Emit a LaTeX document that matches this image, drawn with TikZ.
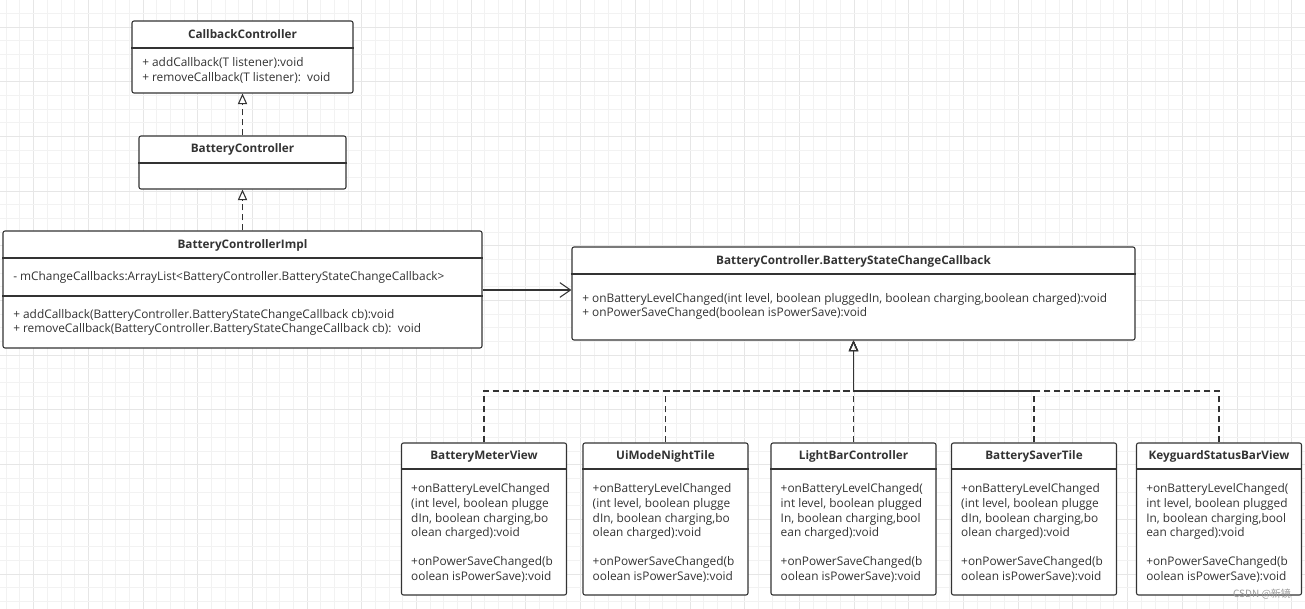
\documentclass[tikz,border=0pt]{standalone}
\usepackage{fontspec}
\setmainfont{Open Sans}
\newfontfamily\cjkfont{Noto Sans CJK SC}
\usetikzlibrary{arrows.meta}
\definecolor{umlline}{HTML}{333333}
\definecolor{gridminor}{HTML}{F2F2F2}
\definecolor{gridmajor}{HTML}{E6E6E6}

% member lists of the five listeners (two ways of breaking the lines)
\newcommand{\listenerA}{+onBatteryLevelChanged\\(int level, boolean plugge\\dIn, boolean charging,bo\\olean charged):void\\\mbox{}\\+onPowerSaveChanged(b\\oolean isPowerSave):void}
\newcommand{\listenerB}{+onBatteryLevelChanged(\\int level, boolean plugged\\In, boolean charging,bool\\ean charged):void\\\mbox{}\\+onPowerSaveChanged(b\\oolean isPowerSave):void}

\tikzset{
  classbox/.style={draw=umlline,line width=0.8pt,rounded corners=1.5pt,fill=white,inner sep=0pt},
  classname/.style={font=\fontsize{8.8}{10.9}\selectfont\bfseries,text=umlline,inner sep=0pt},
  members/.style={font=\fontsize{8.9}{10.9}\selectfont,text=umlline,align=left,inner sep=0pt,anchor=west},
  divider/.style={draw=umlline,line width=0.8pt},
  realize/.style={draw=umlline,line width=0.8pt,dash pattern=on 4.5pt off 3pt,-{Triangle[open,length=8pt,width=7pt]}},
  assoc/.style={draw=umlline,line width=0.8pt,-{Straight Barb[length=8pt,width=11pt]}}
}

\begin{document}
\begin{tikzpicture}[x=0.75pt,y=-0.75pt]
  \useasboundingbox[fill=white] (0,0) rectangle (1305,609);
  % background grid
  \foreach \k in {0,...,95}{
    \pgfmathsetmacro{\gx}{6.2+\k*13.675}
    \pgfmathtruncatemacro{\km}{mod(\k,4)}
    \ifnum\km=2 \draw[gridmajor,line width=0.6pt] (\gx,0) -- (\gx,609);
    \else \draw[gridminor,line width=0.6pt] (\gx,0) -- (\gx,609); \fi
  }
  \foreach \k in {0,...,44}{
    \pgfmathsetmacro{\gy}{13.3+\k*13.675}
    \pgfmathtruncatemacro{\km}{mod(\k,4)}
    \ifnum\km=1 \draw[gridmajor,line width=0.6pt] (0,\gy) -- (1305,\gy);
    \else \draw[gridminor,line width=0.6pt] (0,\gy) -- (1305,\gy); \fi
  }

  % CallbackController
  \node[classbox,minimum width=165.75pt,minimum height=54pt] (cbCtrl) at (242.5,57) {};
  \node[classname] (cbCtrl-title) at (242.5,34.5) {CallbackController};
  \draw[divider] (cbCtrl.west |- 0,48) -- (cbCtrl.east |- 0,48);
  \node[members] (cbCtrl-ops) at (142,70.5) {+ addCallback(T listener):void\\+ removeCallback(T listener):\ \ void};

  % BatteryController
  \node[classbox,minimum width=155.25pt,minimum height=39.75pt] (batCtrl) at (242.5,162.5) {};
  \node[classname] (batCtrl-title) at (242.5,149.5) {BatteryController};
  \draw[divider] (batCtrl.west |- 0,163) -- (batCtrl.east |- 0,163);

  % BatteryControllerImpl
  \node[classbox,minimum width=359.25pt,minimum height=87.75pt] (batImpl) at (242.5,289.5) {};
  \node[classname] (batImpl-title) at (242.5,245.5) {BatteryControllerImpl};
  \draw[divider] (batImpl.west |- 0,258) -- (batImpl.east |- 0,258);
  \draw[divider] (batImpl.west |- 0,296) -- (batImpl.east |- 0,296);
  \node[members] (batImpl-attr) at (13,277) {- mChangeCallbacks:ArrayList<BatteryController.BatteryStateChangeCallback>};
  \node[members] (batImpl-ops) at (13,322.5) {+ addCallback(BatteryController.BatteryStateChangeCallback cb):void\\+ removeCallback(BatteryController.BatteryStateChangeCallback cb):\ \ void};

  % BatteryController.BatteryStateChangeCallback
  \node[classbox,minimum width=422.25pt,minimum height=69.75pt] (stateCb) at (853.5,293.5) {};
  \node[classname] (stateCb-title) at (853.5,261) {BatteryController.BatteryStateChangeCallback};
  \draw[divider] (stateCb.west |- 0,274) -- (stateCb.east |- 0,274);
  \node[members] (stateCb-ops) at (582,306.5) {+ onBatteryLevelChanged(int level, boolean pluggedIn, boolean charging,boolean charged):void\\+ onPowerSaveChanged(boolean isPowerSave):void};

  % listeners
  \foreach \nm/\cx/\title/\ops in {meterView/484/BatteryMeterView/\listenerA,
      nightTile/665.5/UiModeNightTile/\listenerA,
      lightBar/853.5/LightBarController/\listenerB,
      saverTile/1034/BatterySaverTile/\listenerA,
      statusBar/1219/KeyguardStatusBarView/\listenerB}{
    \node[classbox,minimum width=123.75pt,minimum height=114pt] (\nm) at (\cx,519) {};
    \node[classname] (\nm-title) at (\cx,456.5) {\title};
    \draw[divider] (\nm.west |- 0,469) -- (\nm.east |- 0,469);
    \node[members,xshift=7.5pt] (\nm-ops) at (\nm.west |- 0,533) {\ops};
  }

  % relations
  \draw[realize] (batCtrl.north) -- (cbCtrl.south);
  \draw[realize] (batImpl.north) -- (batCtrl.south);
  \draw[assoc] (batImpl.east |- 0,290) -- (stateCb.west |- 0,290);
  \coordinate (join) at (853.5,391);
  \draw[realize] (meterView.north) |- (join) -- (stateCb.south);
  \draw[realize] (nightTile.north) |- (join) -- (stateCb.south);
  \draw[realize] (lightBar.north) -- (stateCb.south);
  \draw[realize] (saverTile.north) |- (join) -- (stateCb.south);
  \draw[realize] (statusBar.north) |- (join) -- (stateCb.south);

  \node[text=black!40,font=\cjkfont\fontsize{7.5}{9}\selectfont,inner sep=0pt] (mark) at (1262,594) {CSDN @新镜};
\end{tikzpicture}
\end{document}
